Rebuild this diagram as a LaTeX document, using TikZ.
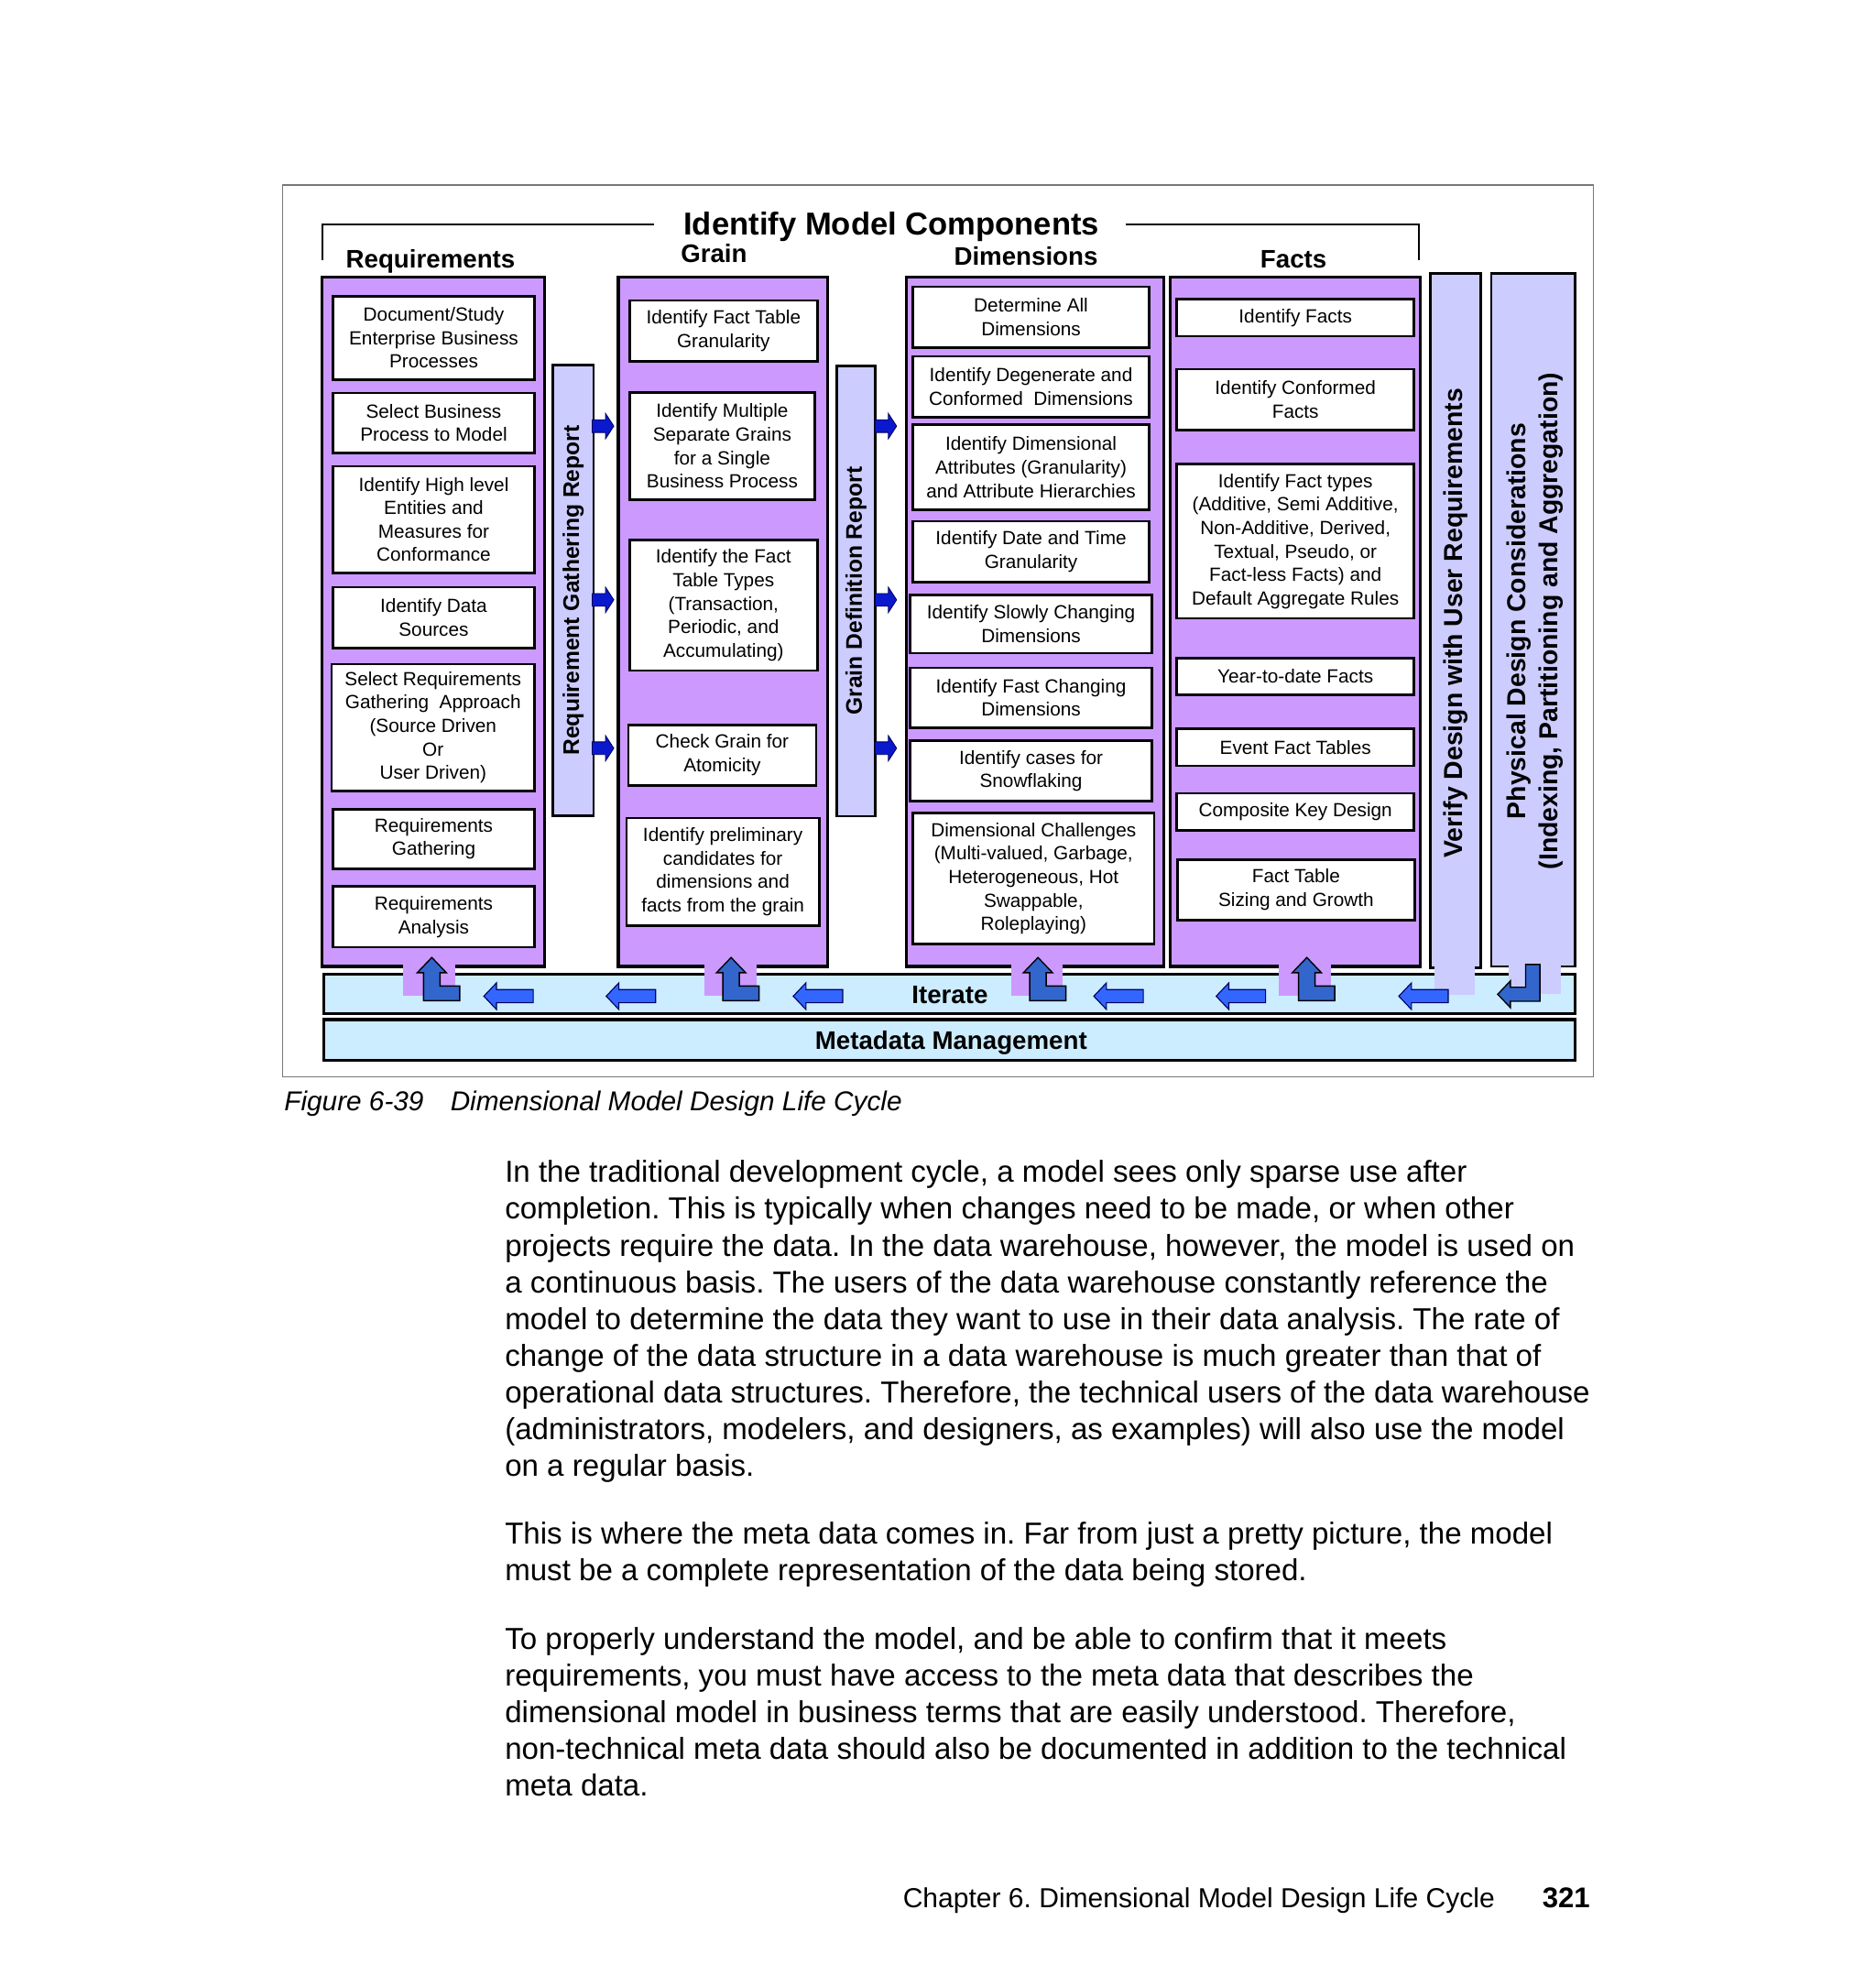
\documentclass[tikz,border=0pt]{standalone}
\usepackage{fontspec}
\setmainfont{Liberation Sans}
\setsansfont{Liberation Sans}
\usepackage{tikz}
\usetikzlibrary{positioning}
\usetikzlibrary{calc}

\definecolor{colPurple}{RGB}{204,153,255}
\definecolor{barLavender}{RGB}{204,204,255}
\definecolor{iterBlue}{RGB}{204,236,255}
\definecolor{arrBright}{RGB}{51,102,255}
\definecolor{arrMid}{RGB}{51,102,204}
\definecolor{arrDark}{RGB}{10,25,205}
\definecolor{arrNavy}{RGB}{0,0,90}
\definecolor{frameGray}{RGB}{120,120,120}

\tikzset{
	colbox/.style={draw, line width=2.4pt, fill=colPurple},
	stepbox/.style={draw, line width=1.9pt, fill=white, align=center, inner sep=0pt,
		font=\fontsize{15}{18.5}\selectfont},
	reportbar/.style={draw, line width=1.9pt, fill=barLavender},
	flowbar/.style={draw, line width=2.4pt, fill=iterBlue},
	bartext/.style={rotate=90, inner sep=0pt, font=\bfseries\fontsize{17.8}{21}\selectfont},
	sidetext/.style={rotate=90, inner sep=0pt, align=center, font=\bfseries\fontsize{20.5}{25}\selectfont},
	headtext/.style={anchor=base, inner sep=0pt, font=\bfseries\fontsize{20}{24}\selectfont},
	titletext/.style={anchor=base, inner sep=0pt, font=\bfseries\fontsize{25}{30}\selectfont},
	bodyline/.style={anchor=base west, inner sep=0pt, font=\fontsize{23.9}{28.9}\selectfont},
	captext/.style={anchor=base west, inner sep=0pt, font=\itshape\fontsize{21.5}{26}\selectfont},
	rightarr/.style={fill=arrDark, draw=arrNavy, line width=0.6pt},
	leftarr/.style={fill=arrBright, draw=arrNavy, line width=0.8pt},
	uparr/.style={fill=arrMid, draw=black, line width=1pt},
}

\begin{document}
\frenchspacing
\begin{tikzpicture}[x=1pt,y=-1pt]
	
	% ---------------------
	% Page
	\useasboundingbox (0,0) rectangle (1479,1566);
	\fill[white] (0,0) rectangle (1479,1566);
	
	% ---------------------
	% Figure frame & title bracket
	\draw[frameGray, line width=1pt] (223,146) rectangle (1256.5,849);
	
	\node[titletext] (Title) at (703,185.5) {Identify Model Components};
	\coordinate (BracketL) at (254,205);
	\coordinate (BracketR) at (1119,205);
	\draw[line width=1.6pt] (BracketL) |- (515.5,177);
	\draw[line width=1.6pt] (BracketR) |- (888,177);
	
	\node[headtext] (ReqHead) at (339.5,211) {Requirements};
	\node[headtext] (GrainHead) at (563,207.3) {Grain};
	\node[headtext] (DimHead) at (809,209) {Dimensions};
	\node[headtext] (FactHead) at (1020,211) {Facts};
	
	% ---------------------
	% Columns
	\node[colbox, minimum width=175.5, minimum height=543.5] (ReqCol) at (341.75,490.25) {};
	\node[colbox, minimum width=165, minimum height=543.5] (GrainCol) at (570,490.25) {};
	\node[colbox, minimum width=203, minimum height=543.5] (DimCol) at (816,490.25) {};
	\node[colbox, minimum width=197, minimum height=543.5] (FactCol) at (1021.5,490.25) {};
	
	% ---------------------
	% Requirements steps
	\node[stepbox, minimum width=159, minimum height=66] (Req1) at (342,266.5) {Document/Study\\Enterprise Business\\Processes};
	\node[stepbox, minimum width=159, minimum height=47] (Req2) at (342,333.5) {Select Business\\Process to Model};
	\node[stepbox, minimum width=159, minimum height=84] (Req3) at (342,409.6) {Identify High level\\Entities and\\Measures for\\Conformance};
	\node[stepbox, minimum width=159, minimum height=48] (Req4) at (342,487) {Identify Data\\Sources};
	\node[stepbox, minimum width=160, minimum height=100] (Req5) at (341.5,573.6) {Select Requirements\\Gathering\ \ Approach\\(Source Driven\\Or\\User Driven)};
	\node[stepbox, minimum width=159, minimum height=47] (Req6) at (342,661.5) {Requirements\\Gathering};
	\node[stepbox, minimum width=159, minimum height=48] (Req7) at (342,723) {Requirements\\Analysis};
	
	% ---------------------
	% Grain steps
	\node[stepbox, minimum width=148, minimum height=48] (Grn1) at (570.5,261) {Identify Fact Table\\Granularity};
	\node[stepbox, minimum width=146, minimum height=84.6] (Grn2) at (569.5,351.7) {Identify Multiple\\Separate Grains\\for a Single\\Business Process};
	\node[stepbox, minimum width=148, minimum height=103] (Grn3) at (570.5,477.2) {Identify the Fact\\Table Types\\(Transaction,\\Periodic, and\\Accumulating)};
	\node[stepbox, minimum width=148, minimum height=48] (Grn4) at (569.5,595.5) {Check Grain for\\Atomicity};
	\node[stepbox, minimum width=152, minimum height=85] (Grn5) at (570,687.5) {Identify preliminary\\candidates for\\dimensions and\\facts from the grain};
	
	% ---------------------
	% Dimensions steps
	\node[stepbox, minimum width=186.5, minimum height=48] (Dim1) at (813,250) {Determine All\\Dimensions};
	\node[stepbox, minimum width=186.5, minimum height=48] (Dim2) at (813,305) {Identify Degenerate and\\Conformed\ \ Dimensions};
	\node[stepbox, minimum width=186.5, minimum height=67] (Dim3) at (813,368.4) {Identify Dimensional\\Attributes (Granularity)\\and Attribute Hierarchies};
	\node[stepbox, minimum width=186.5, minimum height=48] (Dim4) at (813,435) {Identify Date and Time\\Granularity};
	\node[stepbox, minimum width=191, minimum height=46] (Dim5) at (813,492) {Identify Slowly Changing\\Dimensions};
	\node[stepbox, minimum width=191, minimum height=47] (Dim6) at (813,550.2) {Identify Fast Changing\\Dimensions};
	\node[stepbox, minimum width=191, minimum height=47.5] (Dim7) at (813,607.8) {Identify cases for\\Snowflaking};
	\node[stepbox, minimum width=190.5, minimum height=103.5] (Dim8) at (815,692.8) {Dimensional Challenges\\(Multi-valued, Garbage,\\Heterogeneous, Hot\\Swappable,\\Roleplaying)};
	
	% ---------------------
	% Facts steps
	\node[stepbox, minimum width=187, minimum height=29] (Fct1) at (1021.5,250.5) {Identify Facts};
	\node[stepbox, minimum width=187, minimum height=48] (Fct2) at (1021.5,315) {Identify Conformed\\Facts};
	\node[stepbox, minimum width=187, minimum height=121.5] (Fct3) at (1021.5,426.8) {Identify Fact types\\(Additive, Semi Additive,\\Non-Additive, Derived,\\Textual, Pseudo, or\\Fact-less Facts) and\\Default Aggregate Rules};
	\node[stepbox, minimum width=187, minimum height=29] (Fct4) at (1021.5,533.4) {Year-to-date Facts};
	\node[stepbox, minimum width=187, minimum height=29] (Fct5) at (1021.5,589.3) {Event Fact Tables};
	\node[stepbox, minimum width=187, minimum height=29.5] (Fct6) at (1021.5,640.2) {Composite Key Design};
	\node[stepbox, minimum width=187, minimum height=47.5] (Fct7) at (1022,701.6) {Fact Table\\Sizing and Growth};
	
	% ---------------------
	% Report bars & side bars
	\node[reportbar, minimum width=32, minimum height=355] (ReqBar) at (452,465.5) {};
	\node[bartext] (ReqBarText) at (ReqBar.center) {Requirement Gathering Report};
	
	\node[reportbar, minimum width=30, minimum height=355] (GrainBar) at (675,466) {};
	\node[bartext] (GrainBarText) at (GrainBar.center) {Grain Definition Report};
	
	\node[reportbar, minimum width=39.5, minimum height=547.5] (VerifyBar) at (1147.75,489.25) {};
	\node[sidetext] (VerifyText) at ([yshift=-2pt]VerifyBar.center) {Verify Design with User Requirements};
	
	\node[reportbar, minimum width=66, minimum height=546.5] (PhysBar) at (1209,488.75) {};
	\node[sidetext] (PhysText) at ([xshift=1.5pt,yshift=-1pt]PhysBar.center) {Physical Design Considerations\\(Indexing, Partitioning and Aggregation)};
	
	% ---------------------
	% Iterate & Metadata bars
	\node[flowbar, minimum width=986.5, minimum height=31] (IterBar) at (748.75,783.5) {};
	\node[flowbar, minimum width=986.5, minimum height=32] (MetaBar) at (748.75,820) {};
	\node[headtext, anchor=center] (IterText) at (749,784.5) {Iterate};
	\node[headtext] (MetaText) at (750,827.5) {Metadata Management};
	
	% ------------------------------------------------
	% Patches from columns into the iterate bar
	\fill[colPurple] (318,757) rectangle (359,785.5);
	\fill[colPurple] (555.5,757) rectangle (596.5,785.5);
	\fill[colPurple] (797.5,757) rectangle (838,785.5);
	\fill[colPurple] (1008.5,757) rectangle (1049.5,785.5);
	\fill[barLavender] (1131,758) rectangle (1163,784.5);
	\fill[barLavender] (1190,758) rectangle (1231,783.5);
	
	% ------------------------------------------------
	% Report arrows into the next column
	\draw[rightarr] (467,336) ++(0,-5) -- ++(10.5,0) -- ++(0,-5) -- ++(6.5,10) -- ++(-6.5,10) -- ++(0,-5) -- ++(-10.5,0) -- cycle;
	\draw[rightarr] (467,473) ++(0,-5) -- ++(10.5,0) -- ++(0,-5) -- ++(6.5,10) -- ++(-6.5,10) -- ++(0,-5) -- ++(-10.5,0) -- cycle;
	\draw[rightarr] (467,590) ++(0,-5) -- ++(10.5,0) -- ++(0,-5) -- ++(6.5,10) -- ++(-6.5,10) -- ++(0,-5) -- ++(-10.5,0) -- cycle;
	\draw[rightarr] (690,336) ++(0,-5) -- ++(10.5,0) -- ++(0,-5) -- ++(6.5,10) -- ++(-6.5,10) -- ++(0,-5) -- ++(-10.5,0) -- cycle;
	\draw[rightarr] (690,473) ++(0,-5) -- ++(10.5,0) -- ++(0,-5) -- ++(6.5,10) -- ++(-6.5,10) -- ++(0,-5) -- ++(-10.5,0) -- cycle;
	\draw[rightarr] (690,590) ++(0,-5) -- ++(10.5,0) -- ++(0,-5) -- ++(6.5,10) -- ++(-6.5,10) -- ++(0,-5) -- ++(-10.5,0) -- cycle;
	
	% ------------------------------------------------
	% Iterate arrows (leftwards)
	\draw[leftarr] (381.5,785.5) -- ++(10,-10.5) -- ++(0,5.3) -- ++(29,0) -- ++(0,10.4) -- ++(-29,0) -- ++(0,5.3) -- cycle;
	\draw[leftarr] (478,785.5) -- ++(10,-10.5) -- ++(0,5.3) -- ++(29,0) -- ++(0,10.4) -- ++(-29,0) -- ++(0,5.3) -- cycle;
	\draw[leftarr] (625.5,785.5) -- ++(10,-10.5) -- ++(0,5.3) -- ++(29,0) -- ++(0,10.4) -- ++(-29,0) -- ++(0,5.3) -- cycle;
	\draw[leftarr] (862.5,785.5) -- ++(10,-10.5) -- ++(0,5.3) -- ++(29,0) -- ++(0,10.4) -- ++(-29,0) -- ++(0,5.3) -- cycle;
	\draw[leftarr] (959,785.5) -- ++(10,-10.5) -- ++(0,5.3) -- ++(29,0) -- ++(0,10.4) -- ++(-29,0) -- ++(0,5.3) -- cycle;
	\draw[leftarr] (1103,785.5) -- ++(10,-10.5) -- ++(0,5.3) -- ++(29,0) -- ++(0,10.4) -- ++(-29,0) -- ++(0,5.3) -- cycle;
	
	% ------------------------------------------------
	% Iterate arrows (back up into the columns)
	\draw[uparr] (340.5,755) -- ++(11.5,12) -- ++(-5,0) -- ++(0,10.5) -- ++(15.5,0) -- ++(0,11.5) -- ++(-28.5,0) -- ++(0,-22) -- ++(-5,0) -- cycle;
	\draw[uparr] (576.5,755) -- ++(11.5,12) -- ++(-5,0) -- ++(0,10.5) -- ++(15.5,0) -- ++(0,11.5) -- ++(-28.5,0) -- ++(0,-22) -- ++(-5,0) -- cycle;
	\draw[uparr] (818.5,755) -- ++(11.5,12) -- ++(-5,0) -- ++(0,10.5) -- ++(15.5,0) -- ++(0,11.5) -- ++(-28.5,0) -- ++(0,-22) -- ++(-5,0) -- cycle;
	\draw[uparr] (1030.5,755) -- ++(11.5,12) -- ++(-5,0) -- ++(0,10.5) -- ++(15.5,0) -- ++(0,11.5) -- ++(-28.5,0) -- ++(0,-22) -- ++(-5,0) -- cycle;
	
	% Physical design turns back into the iterate bar
	\draw[uparr] (1203,760.5) -- ++(11.3,0) -- ++(0,29) -- ++(-23.3,0) -- ++(0,5) -- ++(-10,-10.5) -- ++(10,-10.5) -- ++(0,5) -- ++(12,0) -- cycle;
	
	% ------------------------------------------------
	% Caption
	\node[captext] (CapNum) at (224,876) {Figure 6-39};
	\node[captext] (CapTitle) at (355,876) {Dimensional Model Design Life Cycle};
	
	% ------------------------------------------------
	% Body text
	\node[bodyline] (ParaA1) at (398,932.5) {In the traditional development cycle, a model sees only sparse use after};
	\node[bodyline] (ParaA2) at ([yshift=-28.9pt]ParaA1.base west) {completion. This is typically when changes need to be made, or when other};
	\node[bodyline] (ParaA3) at ([yshift=-28.9pt]ParaA2.base west) {projects require the data. In the data warehouse, however, the model is used on};
	\node[bodyline] (ParaA4) at ([yshift=-28.9pt]ParaA3.base west) {a continuous basis. The users of the data warehouse constantly reference the};
	\node[bodyline] (ParaA5) at ([yshift=-28.9pt]ParaA4.base west) {model to determine the data they want to use in their data analysis. The rate of};
	\node[bodyline] (ParaA6) at ([yshift=-28.9pt]ParaA5.base west) {change of the data structure in a data warehouse is much greater than that of};
	\node[bodyline] (ParaA7) at ([yshift=-28.9pt]ParaA6.base west) {operational data structures. Therefore, the technical users of the data warehouse};
	\node[bodyline] (ParaA8) at ([yshift=-28.9pt]ParaA7.base west) {(administrators, modelers, and designers, as examples) will also use the model};
	\node[bodyline] (ParaA9) at ([yshift=-28.9pt]ParaA8.base west) {on a regular basis.};
	
	\node[bodyline] (ParaB1) at (398,1217.5) {This is where the meta data comes in. Far from just a pretty picture, the model};
	\node[bodyline] (ParaB2) at ([yshift=-28.9pt]ParaB1.base west) {must be a complete representation of the data being stored.};
	
	\node[bodyline] (ParaC1) at (398,1300.5) {To properly understand the model, and be able to confirm that it meets};
	\node[bodyline] (ParaC2) at ([yshift=-28.9pt]ParaC1.base west) {requirements, you must have access to the meta data that describes the};
	\node[bodyline] (ParaC3) at ([yshift=-28.9pt]ParaC2.base west) {dimensional model in business terms that are easily understood. Therefore,};
	\node[bodyline] (ParaC4) at ([yshift=-28.9pt]ParaC3.base west) {non-technical meta data should also be documented in addition to the technical};
	\node[bodyline] (ParaC5) at ([yshift=-28.9pt]ParaC4.base west) {meta data.};
	
	% ------------------------------------------------
	% Footer
	\node[bodyline, anchor=base east, font=\fontsize{21.7}{26}\selectfont] (Footer) at (1179,1504) {Chapter 6. Dimensional Model Design Life Cycle};
	\node[bodyline, anchor=base east, font=\bfseries\fontsize{22.5}{26}\selectfont] (PageNo) at (1254,1504) {321};
	
\end{tikzpicture}
\end{document}
